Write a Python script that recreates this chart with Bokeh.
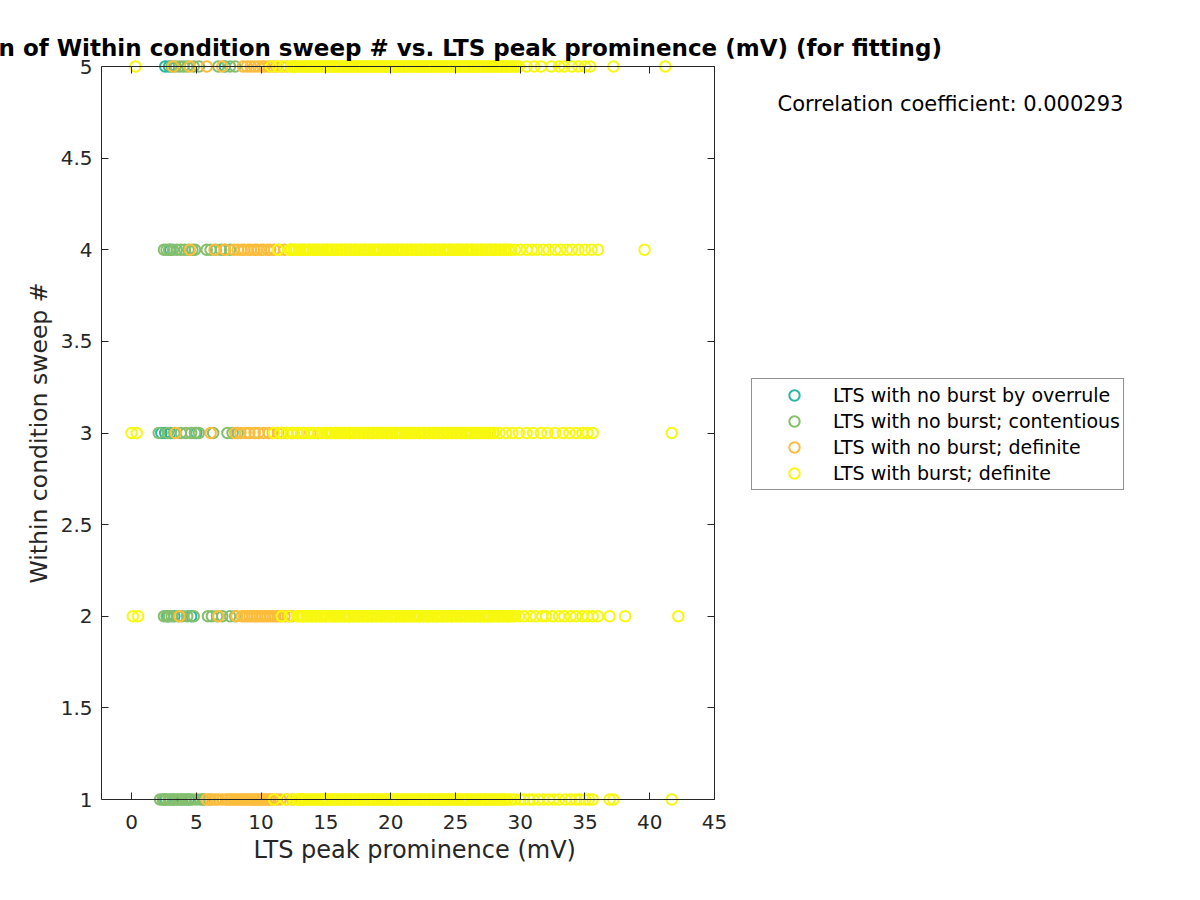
from bokeh.plotting import figure
from bokeh.models import Range1d, LinearAxis, FixedTicker, Label, Legend, LegendItem, Title
from bokeh.embed import file_html
from bokeh.resources import INLINE

# ---------------- data (x = LTS peak prominence in mV, one list per sweep #) ----------------
sweeps = [1, 2, 3, 4, 5]
x_ticks = [0, 5, 10, 15, 20, 25, 30, 35, 40, 45]
y_ticks = [1, 1.5, 2, 2.5, 3, 3.5, 4, 4.5, 5]
y_tick_labels = ["1", "1.5", "2", "2.5", "3", "3.5", "4", "4.5", "5"]

categories = ["LTS with no burst by overrule", "LTS with no burst; contentious",
              "LTS with no burst; definite", "LTS with burst; definite"]
colors = ["#2bb5a3", "#85bf6d", "#fbbd3b", "#f7f80f"]

overrule_s1 = [2.6, 3.2, 3.9, 4.4]
overrule_s2 = [2.8, 3.3, 4.6]
overrule_s3 = [2.3, 2.6, 3.0, 5.0]
overrule_s4 = [3.0]
overrule_s5 = [2.6, 2.9, 7.2]

contentious_s1 = [2.2, 2.4, 2.5, 2.7, 2.9, 3.0, 3.3, 3.5, 3.6, 3.8, 4.1, 4.2, 4.5, 4.7, 5.0, 5.3, 5.5, 5.6, 6.0]
contentious_s2 = [2.5, 2.7, 2.9, 3.1, 3.6, 3.9, 4.3, 4.8, 5.9, 6.2, 6.6, 7.0, 7.6, 8.0]
contentious_s3 = [2.1, 2.8, 3.3, 3.8, 4.2, 4.6, 4.9, 5.2, 6.3, 7.4, 7.8, 8.2]
contentious_s4 = [2.5, 2.7, 2.9, 3.2, 3.5, 3.8, 4.1, 4.4, 4.7, 4.9, 5.8, 6.1, 6.5, 6.9, 7.2, 7.6]
contentious_s5 = [3.1, 3.4, 3.7, 4.0, 4.3, 4.8, 5.2, 6.7, 7.6, 8.0]

definite_s1 = [5.8, 6.1, 6.3, 6.5, 6.7, 7.0, 7.3, 7.4, 7.6, 7.7, 7.9, 8.0, 8.2, 8.3, 8.5, 8.6, 8.8, 8.9,
               9.1, 9.2, 9.4, 9.5, 9.7, 9.8, 10.0, 10.1, 10.3, 10.4, 10.6, 10.7, 10.9, 11.2, 11.5, 12.0,
               12.4, 13.1]
definite_s2 = [3.7, 6.7, 8.1, 8.5, 8.7, 8.9, 9.1, 9.3, 9.5, 9.7, 9.9, 10.1, 10.3, 10.5, 10.7, 10.9,
               11.1, 11.3, 11.5, 11.8, 12.1, 12.4]
definite_s3 = [3.4, 6.1, 8.0, 8.4, 8.8, 9.1, 9.5, 9.8, 10.2, 10.6, 10.9, 11.3, 11.6, 12.0, 12.4, 12.8,
               13.3, 13.8, 14.4]
definite_s4 = [4.5, 6.4, 7.2, 7.9, 8.2, 8.5, 8.7, 9.0, 9.2, 9.5, 9.7, 10.0, 10.2, 10.5, 10.7, 11.0,
               11.4, 11.8, 12.3]
definite_s5 = [3.2, 4.5, 5.8, 7.0, 8.6, 8.9, 9.2, 9.5, 9.8, 10.1, 10.3, 10.6, 10.9, 11.2, 11.6, 12.0, 12.5]

burst_s1 = [11.0, 11.9, 12.5, 12.8,
            12.9, 13.0, 13.2, 13.3, 13.4, 13.6, 13.7, 13.9, 14.0, 14.1, 14.3, 14.4, 14.6, 14.7, 14.8,
            15.0, 15.1, 15.2, 15.4, 15.5, 15.7, 15.8, 15.9, 16.1, 16.2, 16.4, 16.5, 16.6, 16.8, 16.9,
            17.0, 17.2, 17.3, 17.5, 17.6, 17.7, 17.9, 18.0, 18.2, 18.3, 18.4, 18.6, 18.7, 18.8, 19.0,
            19.1, 19.3, 19.4, 19.5, 19.7, 19.8, 20.0, 20.1, 20.2, 20.4, 20.5, 20.6, 20.8, 20.9, 21.1,
            21.2, 21.3, 21.5, 21.6, 21.8, 21.9, 22.0, 22.2, 22.3, 22.4, 22.6, 22.7, 22.9, 23.0, 23.1,
            23.3, 23.4, 23.6, 23.7, 23.8, 24.0, 24.1, 24.2, 24.4, 24.5, 24.7, 24.8, 24.9, 25.1, 25.2,
            25.4, 25.5, 25.6, 25.8, 25.9, 26.0, 26.2, 26.3, 26.5, 26.6, 26.7, 26.9, 27.0, 27.2, 27.3,
            27.4, 27.6, 27.7, 27.8, 28.0, 28.1, 28.3, 28.4, 28.5, 28.7, 28.8, 29.0,
            29.3, 29.6, 30.0, 30.3, 30.7, 31.0, 31.4, 31.8, 32.2, 32.6, 33.0, 33.5, 33.9, 34.3, 34.6,
            35.0, 35.3, 35.6, 36.9, 37.2, 41.7]
burst_s2 = [0.1, 0.5, 11.6, 12.2,
            12.8, 12.9, 13.1, 13.2, 13.3, 13.5, 13.6, 13.8, 13.9, 14.0, 14.2, 14.3, 14.5, 14.6, 14.7,
            14.9, 15.0, 15.1, 15.3, 15.4, 15.6, 15.7, 15.8, 16.0, 16.1, 16.3, 16.4, 16.5, 16.7, 16.8,
            16.9, 17.1, 17.2, 17.4, 17.5, 17.6, 17.8, 17.9, 18.1, 18.2, 18.3, 18.5, 18.6, 18.7, 18.9,
            19.0, 19.2, 19.3, 19.4, 19.6, 19.7, 19.9, 20.0, 20.1, 20.3, 20.4, 20.5, 20.7, 20.8, 21.0,
            21.1, 21.2, 21.4, 21.5, 21.7, 21.8, 21.9, 22.1, 22.2, 22.3, 22.5, 22.6, 22.8, 22.9, 23.0,
            23.2, 23.3, 23.5, 23.6, 23.7, 23.9, 24.0, 24.1, 24.3, 24.4, 24.6, 24.7, 24.8, 25.0, 25.1,
            25.3, 25.4, 25.5, 25.7, 25.8, 25.9, 26.1, 26.2, 26.4, 26.5, 26.6, 26.8, 26.9, 27.1, 27.2,
            27.3, 27.5, 27.6, 27.7, 27.9, 28.0, 28.2, 28.3, 28.4, 28.6, 28.7, 28.9, 29.0, 29.1, 29.3,
            29.4, 29.6,
            29.9, 30.3, 30.8, 31.2, 31.7, 32.0, 32.5, 33.0, 33.4, 33.9, 34.3, 34.8, 35.2, 35.6, 36.0,
            36.9, 38.1, 42.2]
burst_s3 = [0.0, 0.4, 11.0, 11.5, 12.0, 12.3, 12.5, 12.8, 13.1, 13.3, 13.6, 13.9, 14.1, 14.4, 14.7,
            15.0, 15.1, 15.3, 15.4, 15.5, 15.7, 15.8, 16.0, 16.1, 16.2, 16.4, 16.5, 16.7, 16.8, 16.9,
            17.1, 17.2, 17.3, 17.5, 17.6, 17.8, 17.9, 18.0, 18.2, 18.3, 18.5, 18.6, 18.7, 18.9, 19.0,
            19.1, 19.3, 19.4, 19.6, 19.7, 19.8, 20.0, 20.1, 20.3, 20.4, 20.5, 20.7, 20.8, 20.9, 21.1,
            21.2, 21.4, 21.5, 21.6, 21.8, 21.9, 22.1, 22.2, 22.3, 22.5, 22.6, 22.7, 22.9, 23.0, 23.2,
            23.3, 23.4, 23.6, 23.7, 23.9, 24.0, 24.1, 24.3, 24.4, 24.5, 24.7, 24.8, 25.0, 25.1, 25.2,
            25.4, 25.5, 25.7, 25.8, 25.9, 26.1, 26.2, 26.3, 26.5, 26.6, 26.8, 26.9, 27.0, 27.2, 27.3,
            27.5, 27.6, 27.7, 27.9, 28.0,
            28.4, 28.9, 29.4, 29.9, 30.5, 31.0, 31.6, 32.1, 32.7, 33.3, 33.8, 34.3, 34.8, 35.2, 35.6,
            41.7]
burst_s4 = [11.3,
            12.2, 12.3, 12.5, 12.6, 12.7, 12.9, 13.0, 13.2, 13.3, 13.4, 13.6, 13.7, 13.8, 14.0, 14.1,
            14.3, 14.4, 14.5, 14.7, 14.8, 15.0, 15.1, 15.2, 15.4, 15.5, 15.6, 15.8, 15.9, 16.1, 16.2,
            16.3, 16.5, 16.6, 16.8, 16.9, 17.0, 17.2, 17.3, 17.4, 17.6, 17.7, 17.9, 18.0, 18.1, 18.3,
            18.4, 18.6, 18.7, 18.8, 19.0, 19.1, 19.2, 19.4, 19.5, 19.7, 19.8, 19.9, 20.1, 20.2, 20.4,
            20.5, 20.6, 20.8, 20.9, 21.0, 21.2, 21.3, 21.5, 21.6, 21.7, 21.9, 22.0, 22.2, 22.3, 22.4,
            22.6, 22.7, 22.8, 23.0, 23.1, 23.3, 23.4, 23.5, 23.7, 23.8, 24.0, 24.1, 24.2, 24.4, 24.5,
            24.6, 24.8, 24.9, 25.1, 25.2, 25.3, 25.5, 25.6, 25.8, 25.9, 26.0, 26.2, 26.3, 26.4, 26.6,
            26.7, 26.9, 27.0, 27.1, 27.3, 27.4, 27.6, 27.7, 27.8, 28.0, 28.1, 28.2, 28.4, 28.5, 28.7,
            28.8, 28.9, 29.1, 29.3,
            29.6, 30.0, 30.5, 30.9, 31.3, 31.8, 32.2, 32.7, 33.1, 33.6, 34.0, 34.5, 35.0, 35.5, 36.0,
            39.6]
burst_s5 = [0.3, 10.8, 11.3, 11.8,
            12.3, 12.4, 12.6, 12.7, 12.8, 13.0, 13.1, 13.3, 13.4, 13.5, 13.7, 13.8, 13.9, 14.1, 14.2,
            14.4, 14.5, 14.6, 14.8, 14.9, 15.0, 15.2, 15.3, 15.5, 15.6, 15.7, 15.9, 16.0, 16.1, 16.3,
            16.4, 16.6, 16.7, 16.8, 17.0, 17.1, 17.3, 17.4, 17.5, 17.7, 17.8, 17.9, 18.1, 18.2, 18.4,
            18.5, 18.6, 18.8, 18.9, 19.1, 19.2, 19.3, 19.5, 19.6, 19.7, 19.9, 20.0, 20.2, 20.3, 20.4,
            20.6, 20.7, 20.9, 21.0, 21.1, 21.3, 21.4, 21.5, 21.7, 21.8, 22.0, 22.1, 22.2, 22.4, 22.5,
            22.7, 22.8, 22.9, 23.1, 23.2, 23.3, 23.5, 23.6, 23.8, 23.9, 24.0, 24.2, 24.3, 24.5, 24.6,
            24.7, 24.9, 25.0, 25.1, 25.3, 25.4, 25.6, 25.7, 25.8, 26.0, 26.1, 26.3, 26.4, 26.5, 26.7,
            26.8, 26.9, 27.1, 27.2, 27.4, 27.5, 27.6, 27.8, 27.9, 28.1, 28.2, 28.3, 28.5, 28.6, 28.7,
            28.9, 29.0, 29.2, 29.3, 29.5, 29.7, 29.9,
            30.5, 31.1, 31.6, 32.4, 33.0, 33.4, 34.0, 34.5, 35.0, 35.4, 37.2, 41.2]

overrule = [overrule_s1, overrule_s2, overrule_s3, overrule_s4, overrule_s5]
contentious = [contentious_s1, contentious_s2, contentious_s3, contentious_s4, contentious_s5]
definite = [definite_s1, definite_s2, definite_s3, definite_s4, definite_s5]
burst = [burst_s1, burst_s2, burst_s3, burst_s4, burst_s5]
correlation = 0.000293

# ---------------- figure ----------------
FONT = "DejaVu Sans"
AX = "#262626"
X0, X1 = -2.32, 45.0               # visible axes box in data units
px_x = (714 - 101) / (X1 - X0)     # pixels per mV
px_y = (799 - 66) / 4.0            # pixels per sweep
pad = 7 / px_y
FRAME_W = 1090
FRAME_H = 747
TITLE = "Correlation of Within condition sweep # vs. LTS peak prominence (mV) (for fitting)"
TITLE_W = 1071                      # rendered width of the bold 23px title
XLABEL = "LTS peak prominence (mV)"
XLABEL_W = 321                      # rendered width of the 24px x label

p = figure(frame_width=FRAME_W, frame_height=FRAME_H, output_backend="svg", toolbar_location=None,
           x_range=Range1d(X0, X0 + FRAME_W / px_x), y_range=Range1d(1 - pad, 5 + pad),
           min_border_left=101, min_border_right=0, min_border_top=59, min_border_bottom=94,
           background_fill_color="white", border_fill_color="white", title=TITLE)
p.outline_line_color = None
p.grid.visible = False

# centred over the axes box (x = 407.5 px), so its left end runs off the page like the original
p.title.align = "left"
p.title.offset = int(round((101 + 714) / 2 - TITLE_W / 2 - 101)) - 3
p.title.text_font = FONT
p.title.text_font_size = "23px"
p.title.text_font_style = "bold"
p.title.text_color = "black"
p.title.standoff = -2

xt = FixedTicker(ticks=x_ticks)
yt = FixedTicker(ticks=y_ticks)

def style_axis(ax):
    ax.axis_line_color = AX
    ax.axis_line_width = 1
    ax.major_tick_line_color = AX
    ax.major_tick_in = 7
    ax.major_tick_out = 0
    ax.minor_tick_line_color = None
    ax.major_label_text_font = FONT
    ax.major_label_text_font_size = "20px"
    ax.major_label_text_color = AX
    ax.axis_label_text_font = FONT
    ax.axis_label_text_font_size = "23.5px"
    ax.axis_label_text_font_style = "normal"
    ax.axis_label_text_color = AX

# bottom: tick labels only (at the frame edge)
xa = p.xaxis[0]
xa.ticker = xt
xa.bounds = (X0, X1)
style_axis(xa)
xa.axis_line_color = None
xa.major_tick_line_color = None
xa.major_label_standoff = 8

# bottom box line with inward ticks, at sweep = 1
xbox = LinearAxis(ticker=xt, fixed_location=1, bounds=(X0, X1),
                  major_label_overrides={t: "" for t in x_ticks})
style_axis(xbox)
xbox.major_label_standoff = 0
p.add_layout(xbox, "below")

# x axis label, centred under the axes box
p.add_layout(Title(text=XLABEL, align="left",
                   offset=int(round(413 - XLABEL_W / 2 - 101)),
                   text_font=FONT, text_font_size="24px", text_font_style="normal",
                   text_color=AX, standoff=5), "below")

ya = p.yaxis[0]
ya.ticker = yt
ya.bounds = (1, 5)
ya.major_label_overrides = {t: s for t, s in zip(y_ticks, y_tick_labels)}
ya.axis_label = "Within condition sweep #"
style_axis(ya)
ya.major_label_standoff = 9
ya.axis_label_standoff = 5

top = LinearAxis(ticker=xt, fixed_location=5, bounds=(X0, X1),
                 major_label_overrides={t: "" for t in x_ticks})
style_axis(top)
top.major_label_standoff = 0
p.add_layout(top, "above")

right = LinearAxis(ticker=yt, bounds=(1, 5), fixed_location=X1,
                   major_label_overrides={t: "" for t in y_ticks})
style_axis(right)
right.major_label_standoff = 0
p.add_layout(right, "right")

items = []
for name, col, groups in zip(categories, colors, [overrule, contentious, definite, burst]):
    xs, ys = [], []
    for s, vals in zip(sweeps, groups):
        xs += vals
        ys += [s] * len(vals)
    r = p.scatter(xs, ys, marker="circle", size=10.5, fill_color=None,
                  line_color=col, line_width=2)
    items.append(LegendItem(label=name, renderers=[r]))

legend = Legend(items=items, location=(650, 316), margin=0, padding=3,
                spacing=0, glyph_width=78, glyph_height=26, label_height=26,
                label_standoff=-1, label_text_font=FONT, label_text_font_size="19px",
                label_text_color="black", border_line_color=AX, border_line_width=1,
                background_fill_color="white", background_fill_alpha=1)
p.add_layout(legend, "center")

p.add_layout(Label(x=X0 + (777 - 101) / px_x, y=5 + pad - (103 - 59) / px_y,
                   text=f"Correlation coefficient: {correlation:.6f}",
                   text_font=FONT, text_font_size="21px", text_color="black",
                   text_align="left", text_baseline="middle"))

open("out.html", "w").write(file_html(p, INLINE))
